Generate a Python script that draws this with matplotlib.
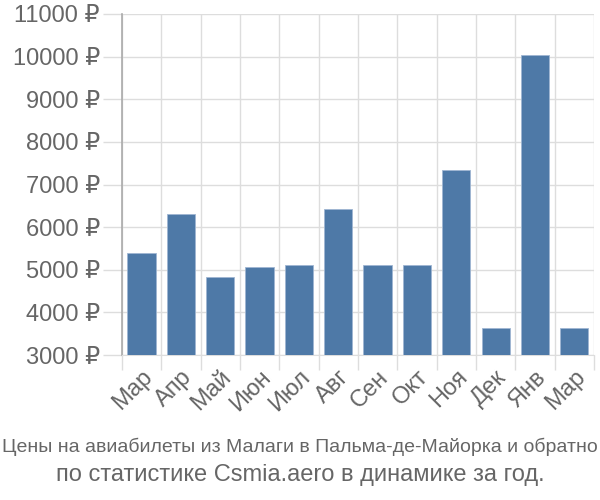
import matplotlib
matplotlib.use("Agg")
import matplotlib.pyplot as plt
from matplotlib import font_manager
import numpy as np

# ── Data ──
months = ["Мар", "Апр", "Май", "Июн", "Июл", "Авг",
          "Сен", "Окт", "Ноя", "Дек", "Янв", "Мар"]
prices = [5400, 6310, 4830, 5060, 5110, 6420,
          5110, 5110, 7340, 3630, 10040, 3630]
y_ticks = list(range(3000, 12000, 1000))
title_1 = "Цены на авиабилеты из Малаги в Пальма-де-Майорка и обратно"
title_2 = "по статистике Csmia.aero в динамике за год."

plt.rcParams["font.family"] = ["Liberation Sans", "DejaVu Sans"]

# condensed font for the first caption line, if it is installed
try:
    font_manager.findfont("Liberation Sans Narrow", fallback_to_default=False)
    narrow, narrow_size = ["Liberation Sans Narrow", "DejaVu Sans"], 17
except ValueError:
    narrow, narrow_size = ["Liberation Sans", "DejaVu Sans"], 14

fig = plt.figure(figsize=(6, 5), dpi=100)
ax = fig.add_axes([0.2033, 0.29, 0.7867, 0.682])

x = np.arange(len(months))
ax.bar(x, prices, width=0.72, bottom=0, color="#4e79a7",
       edgecolor="#9fb6d2", linewidth=0.6, zorder=3)

ax.set_xlim(-0.5, len(months) - 0.5)
ax.set_ylim(3000, 11000)

# grid lines at category boundaries and at each price step
ax.set_xticks(np.arange(-0.5, len(months), 1.0), minor=True)
ax.set_xticks(x)
ax.set_xticklabels(months, rotation=45, ha="right", va="top",
                   rotation_mode="anchor", fontsize=17, color="#666666")
ax.set_yticks(y_ticks)
ax.set_yticklabels([f"{v} ₽" for v in y_ticks], fontsize=17, color="#666666")

ax.grid(True, which="minor", axis="x", color="#dddddd", linewidth=1, zorder=0)
ax.grid(True, which="major", axis="y", color="#dddddd", linewidth=1, zorder=0)
ax.tick_params(axis="x", which="major", length=0, pad=8)
ax.tick_params(axis="x", which="minor", length=11, color="#dddddd", width=1)
ax.tick_params(axis="y", length=14, color="#dddddd", width=1, pad=2)

for side in ["top", "right"]:
    ax.spines[side].set_visible(False)
ax.spines["left"].set_color("#aaaaaa")
ax.spines["left"].set_linewidth(1.2)
ax.spines["bottom"].set_color("#dddddd")

fig.text(0.5, 0.106, title_1, ha="center", va="center", fontsize=narrow_size,
         color="#666666", family=narrow)
fig.text(0.5, 0.05, title_2, ha="center", va="center", fontsize=17,
         color="#666666")

fig.savefig("out.png", dpi=100)
